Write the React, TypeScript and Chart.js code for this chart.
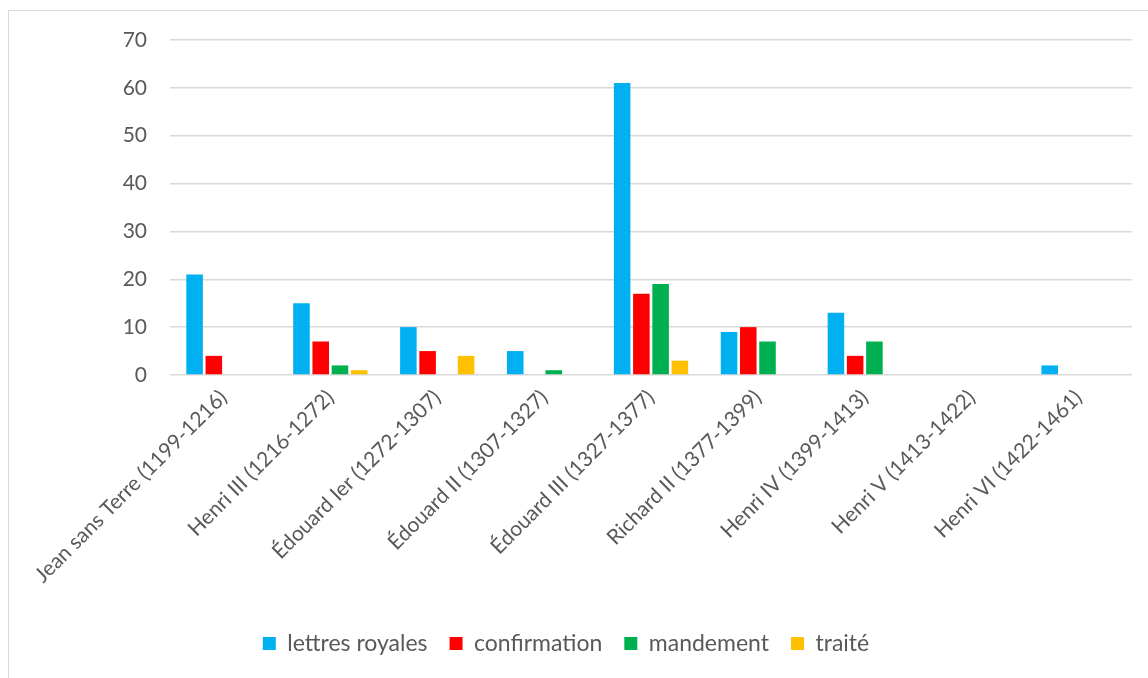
import React, { useEffect, useRef } from "react";
import { Chart, registerables } from "chart.js";

Chart.register(...registerables);

const categories = [
  "Jean sans Terre (1199-1216)",
  "Henri III (1216-1272)",
  "Édouard Ier (1272-1307)",
  "Édouard II (1307-1327)",
  "Édouard III (1327-1377)",
  "Richard II (1377-1399)",
  "Henri IV (1399-1413)",
  "Henri V (1413-1422)",
  "Henri VI (1422-1461)",
];
const lettresRoyales = [21, 15, 10, 5, 61, 9, 13, 0, 2];
const confirmation = [4, 7, 5, 0, 17, 10, 4, 0, 0];
const mandement = [0, 2, 0, 1, 19, 7, 7, 0, 0];
const traite = [0, 1, 4, 0, 3, 0, 0, 0, 0];
const yTicks = [0, 10, 20, 30, 40, 50, 60, 70];

const FONT = "Lato, 'Open Sans', sans-serif";
const TEXT = "#595959";
const GRID = "#d9d9d9";

export default function App() {
  const ref = useRef<HTMLCanvasElement | null>(null);
  useEffect(() => {
    document.body.style.margin = "0";
    document.body.style.overflow = "hidden";
    const ctx = ref.current!.getContext("2d")!;
    const chart = new Chart(ctx, {
      type: "bar",
      data: {
        labels: categories,
        datasets: [
          { label: "lettres royales", data: lettresRoyales, backgroundColor: "#00B0F0" },
          { label: "confirmation", data: confirmation, backgroundColor: "#FF0000" },
          { label: "mandement", data: mandement, backgroundColor: "#00B050" },
          { label: "traité", data: traite, backgroundColor: "#FFC000" },
        ],
      },
      options: {
        animation: false,
        responsive: false,
        layout: { padding: { top: 40, right: 16, left: 0, bottom: 13 } },
        datasets: { bar: { categoryPercentage: 0.72, barPercentage: 0.86 } } as any,
        plugins: {
          tooltip: { enabled: false },
          legend: {
            position: "bottom",
            labels: {
              boxWidth: 13,
              boxHeight: 13,
              color: TEXT,
              padding: 22,
              font: { family: FONT, size: 23 },
            },
          },
        },
        scales: {
          x: {
            grid: { display: false, drawTicks: false },
            border: { display: false },
            ticks: {
              color: TEXT,
              font: { family: FONT, size: 21 },
              maxRotation: 45,
              minRotation: 45,
              padding: 10,
              autoSkip: false,
            },
            afterFit: (scale: any) => {
              scale.height = 235;
            },
          },
          y: {
            min: 0,
            max: 70,
            afterBuildTicks: (scale: any) => {
              scale.ticks = yTicks.map((v) => ({ value: v }));
            },
            grid: { color: GRID, lineWidth: 1.5, drawTicks: false },
            border: { display: false },
            ticks: {
              color: TEXT,
              font: { family: FONT, size: 21 },
              padding: 23,
            },
            afterFit: (scale: any) => {
              scale.width = 170;
            },
          },
        },
      },
    });
    return () => chart.destroy();
  }, []);
  return (
    <div style={{ position: "relative", width: 1148, height: 678, overflow: "hidden", background: "#fff" }}>
      <div
        style={{
          position: "absolute",
          left: 8,
          top: 10,
          width: 1200,
          height: 720,
          border: "1px solid #d9d9d9",
          boxSizing: "border-box",
        }}
      />
      <canvas ref={ref} width={1148} height={678} style={{ position: "absolute", left: 0, top: 0 }} />
    </div>
  );
}
